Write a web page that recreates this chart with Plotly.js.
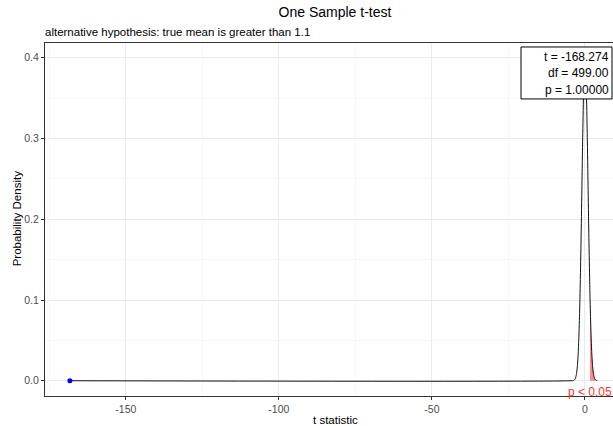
<!DOCTYPE html>
<html>
<head>
<meta charset="utf-8">
<script src="https://cdn.plot.ly/plotly-3.0.1.min.js"></script>
<style>html,body{margin:0;padding:0;background:#fff;overflow:hidden;}#chart{width:613px;height:426px;}</style>
</head>
<body>
<div id="chart"></div>
<script>
// t values and density (t distribution, df = 499)
var tVals = [-168.274, -4.0, -3.75, -3.5, -3.25, -3.0, -2.75, -2.5, -2.25, -2.0, -1.75, -1.5, -1.25, -1.0, -0.75, -0.5, -0.25, 0, 0.25, 0.5, 0.75, 1.0, 1.25, 1.5, 1.648, 1.75, 2.0, 2.25, 2.5, 2.75, 3.0, 3.25, 3.5, 3.75, 4.0];
var densVals = [0, 0.0001, 0.0004, 0.0009, 0.0020, 0.0044, 0.0091, 0.0175, 0.0317, 0.0540, 0.0863, 0.1295, 0.1826, 0.2420, 0.3011, 0.3521, 0.3867, 0.3989, 0.3867, 0.3521, 0.3011, 0.2420, 0.1826, 0.1295, 0.1024, 0.0863, 0.0540, 0.0317, 0.0175, 0.0091, 0.0044, 0.0020, 0.0009, 0.0004, 0.0001];
// rejection region (t > critical value 1.648)
var rejT = [1.648, 1.75, 2.0, 2.25, 2.5, 2.75, 3.0, 3.25, 3.5, 3.75, 4.0];
var rejDens = [0.1024, 0.0863, 0.0540, 0.0317, 0.0175, 0.0091, 0.0044, 0.0020, 0.0009, 0.0004, 0.0001];
// observed statistic
var obsT = [-168.274];
var obsDens = [0];
// tick labels
var xTickVals = [-150, -100, -50, 0];
var xTickText = ["-150", "-100", "-50", "0"];
var yTickVals = [0, 0.1, 0.2, 0.3, 0.4];
var yTickText = ["0.0", "0.1", "0.2", "0.3", "0.4"];
var statLines = ["t = -168.274", "df = 499.00", "p = 1.00000"];
var critLabel = "p < 0.05";
var critPos = [1.63, -0.014];

var font = "Arial, 'Liberation Sans', sans-serif";
var L = 45, T = 43, W = 568, H = 353.3;
function px(x) { return (x - L) / W; }
function py(y) { return (T + H - y) / H; }

var traces = [
  {x: rejT, y: rejDens, type: 'scatter', mode: 'lines', fill: 'tozeroy',
   fillcolor: 'rgba(255,40,40,0.55)', line: {width: 0, color: 'rgba(255,0,0,0)'}, hoverinfo: 'skip'},
  {x: tVals, y: densVals, type: 'scatter', mode: 'lines', line: {color: '#111', width: 1, shape: 'spline', smoothing: 0.6}},
  {x: obsT, y: obsDens, type: 'scatter', mode: 'markers', marker: {color: 'blue', size: 5}}
];

var annotations = [
  {xref: 'paper', yref: 'paper', x: px(43), y: py(32), xanchor: 'left', yanchor: 'middle',
   text: 'alternative hypothesis: true mean is greater than 1.1', showarrow: false,
   font: {size: 11.5, color: '#000', family: font}},
  {xref: 'paper', yref: 'paper', x: px(335), y: py(420), xanchor: 'center', yanchor: 'middle',
   text: 't statistic', showarrow: false, font: {size: 11.5, color: '#000', family: font}},
  {xref: 'paper', yref: 'paper', x: px(17), y: py(219.5), xanchor: 'center', yanchor: 'middle', textangle: -90,
   text: 'Probability Density', showarrow: false, font: {size: 11.5, color: '#000', family: font}},
  {xref: 'x', yref: 'y', x: critPos[0], y: critPos[1], xanchor: 'center', yanchor: 'middle',
   text: critLabel, showarrow: false, font: {size: 12, color: '#FF3333', family: font}}
];
var lineY = [57, 73.5, 90];
statLines.forEach(function (s, i) {
  annotations.push({xref: 'paper', yref: 'paper', x: px(610.5), y: py(lineY[i]), xanchor: 'right', yanchor: 'middle',
    text: s, showarrow: false, font: {size: 12, color: '#000', family: font}});
});

var layout = {
  width: 613, height: 426,
  margin: {l: L, r: 0, t: T, b: 426 - T - H},
  paper_bgcolor: '#fff', plot_bgcolor: '#fff',
  showlegend: false,
  font: {family: font, color: '#000'},
  title: {text: 'One Sample t-test', font: {size: 14, color: '#000', family: font},
          xref: 'container', yref: 'container', x: 335/613, xanchor: 'center', y: 1 - 12/426, yanchor: 'middle'},
  xaxis: {
    range: [-176.4, 9.15], tickmode: 'array', tickvals: xTickVals, ticktext: xTickText,
    showgrid: true, gridcolor: '#EBEBEB', gridwidth: 1,
    minor: {tickmode: 'linear', tick0: 0, dtick: 25, showgrid: true, gridcolor: '#F3F3F3', gridwidth: 0.6},
    zeroline: false, showline: true, mirror: true, linecolor: '#333', linewidth: 1,
    ticks: 'outside', ticklen: 3, tickcolor: '#333', tickwidth: 1,
    tickfont: {size: 10.5, color: '#4D4D4D', family: font}
  },
  yaxis: {
    range: [-0.0189, 0.4183], tickmode: 'array', tickvals: yTickVals, ticktext: yTickText,
    showgrid: true, gridcolor: '#EBEBEB', gridwidth: 1,
    minor: {tickmode: 'linear', tick0: 0, dtick: 0.05, showgrid: true, gridcolor: '#F3F3F3', gridwidth: 0.6},
    zeroline: false, showline: true, linecolor: '#333', linewidth: 1,
    ticks: 'outside', ticklen: 3, tickcolor: '#333', tickwidth: 1,
    tickfont: {size: 10.5, color: '#4D4D4D', family: font}
  },
  shapes: [
    {type: 'rect', xref: 'paper', yref: 'paper', layer: 'above',
     x0: px(521), x1: px(612), y0: py(99), y1: py(47),
     fillcolor: '#fff', line: {color: '#000', width: 1}}
  ],
  annotations: annotations
};

Plotly.newPlot('chart', traces, layout, {displayModeBar: false, staticPlot: true});
</script>
</body>
</html>
